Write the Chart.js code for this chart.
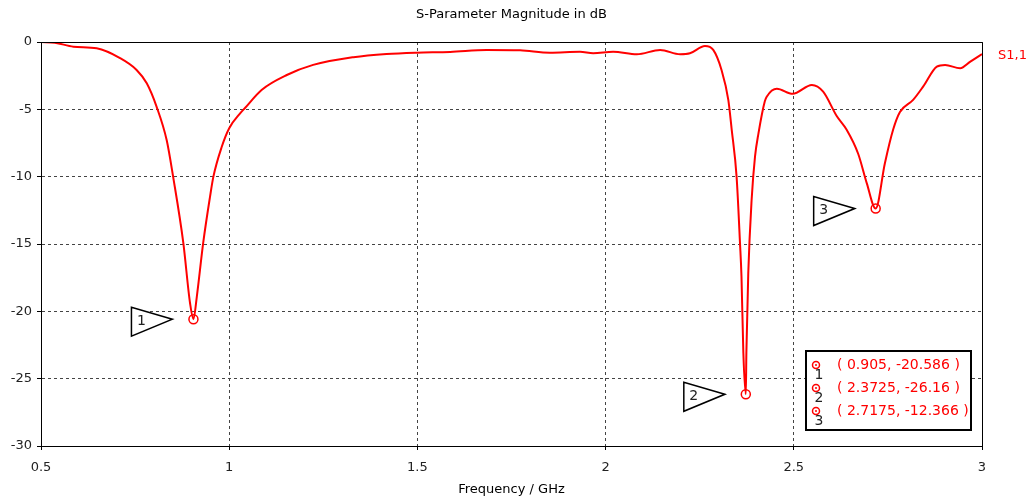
<!DOCTYPE html>
<html>
<head>
<meta charset="utf-8">
<script src="https://cdn.jsdelivr.net/npm/chart.js@4"></script>
<style>
  body { margin: 0; background: #fff; }
  #wrap { width: 1029px; height: 497px; position: relative; }
</style>
</head>
<body>
<div id="wrap"><canvas id="chart"></canvas></div>
<script>
// S1,1 magnitude trace
const freqGHz = [
  0.5, 0.537, 0.586, 0.648, 0.71, 0.754, 0.781, 0.807, 0.834, 0.851, 0.878, 0.896, 0.905,
  0.914, 0.931, 0.949, 0.958, 0.98, 1.0, 1.029, 1.042, 1.086, 1.153, 1.223, 1.33, 1.418,
  1.498, 1.587, 1.684, 1.773, 1.852, 1.932, 1.967, 2.02, 2.083, 2.145, 2.198, 2.224, 2.264,
  2.286, 2.308, 2.326, 2.335, 2.348, 2.357, 2.361, 2.366, 2.3725, 2.374, 2.379, 2.388, 2.397,
  2.406, 2.423, 2.428, 2.455, 2.497, 2.548, 2.578, 2.614, 2.64, 2.671, 2.694, 2.7175, 2.742,
  2.764, 2.782, 2.817, 2.844, 2.88, 2.902, 2.942, 2.969, 3.0
];
const s11dB = [
  0, -0.05, -0.35, -0.47, -1.2, -2.08, -3.07, -4.8, -7.3, -10, -14.9, -19.4, -20.586,
  -18.9, -14.9, -11.5, -10, -7.8, -6.4, -5.3, -4.9, -3.56, -2.45, -1.7, -1.13, -0.89,
  -0.79, -0.74, -0.59, -0.62, -0.79, -0.72, -0.84, -0.72, -0.91, -0.59, -0.91, -0.84, -0.3,
  -0.59, -2.08, -4.3, -6.5, -10, -14.9, -17.4, -23.1, -26.16, -23.1, -17.2, -11.7, -8.5,
  -6.8, -4.4, -4.06, -3.47, -3.85, -3.19, -3.69, -5.5, -6.5, -8.3, -10.5, -12.366, -9.0,
  -6.5, -5.2, -4.3, -3.3, -1.83, -1.7, -1.95, -1.46, -0.89
];

// markers
const markerNames = ['1', '2', '3'];
const markerFreq = [0.905, 2.3725, 2.7175];
const markerDb = [-20.586, -26.16, -12.366];
const markerText = ['( 0.905, -20.586 )', '( 2.3725, -26.16 )', '( 2.7175, -12.366 )'];

// axes
const xMin = 0.5, xMax = 3, xStep = 0.5;
const yMin = -30, yMax = 0, yStep = 5;

const chartTitle = 'S-Parameter Magnitude in dB';
const xTitle = 'Frequency / GHz';
const traceName = 'S1,1';

const RED = '#ff0000';
const FONT = "'DejaVu Sans', sans-serif";

const tracePoints = freqGHz.map((f, i) => ({ x: f, y: s11dB[i] }));
const markerPoints = markerFreq.map((f, i) => ({ x: f, y: markerDb[i] }));

// Extra drawing: titles, frame, marker flags and the marker box
const decor = {
  id: 'decor',
  afterDatasetsDraw(chart) {
    const { ctx, chartArea: a, scales: { x, y } } = chart;
    ctx.save();

    // frame top + right
    ctx.strokeStyle = '#000';
    ctx.lineWidth = 1;
    ctx.beginPath();
    ctx.moveTo(a.left, a.top + 0.5);
    ctx.lineTo(a.right + 0.5, a.top + 0.5);
    ctx.lineTo(a.right + 0.5, a.bottom);
    ctx.stroke();

    // titles
    ctx.fillStyle = '#000';
    ctx.font = '13px ' + FONT;
    ctx.textAlign = 'center';
    ctx.textBaseline = 'middle';
    ctx.fillText(chartTitle, (a.left + a.right) / 2, 15);
    ctx.fillText(xTitle, (a.left + a.right) / 2, 490);

    ctx.fillStyle = RED;
    ctx.font = '13px ' + FONT;
    ctx.textAlign = 'left';
    ctx.fillText(traceName, a.right + 16, 56);

    // marker flags (triangles)
    markerFreq.forEach((f, i) => {
      const px = x.getPixelForValue(f);
      const py = y.getPixelForValue(markerDb[i]);
      ctx.fillStyle = '#fff';
      ctx.strokeStyle = '#000';
      ctx.lineWidth = 1.5;
      ctx.beginPath();
      ctx.moveTo(px - 21, py);
      ctx.lineTo(px - 62, py - 12);
      ctx.lineTo(px - 62, py + 17);
      ctx.closePath();
      ctx.fill();
      ctx.stroke();
      ctx.fillStyle = '#222';
      ctx.font = '14px ' + FONT;
      ctx.textAlign = 'center';
      ctx.fillText(markerNames[i], px - 52, py + 2);
    });

    // marker value box
    const bx = 806, by = 351, bw = 165, bh = 79;
    ctx.fillStyle = '#fff';
    ctx.fillRect(bx, by, bw, bh);
    ctx.strokeStyle = '#000';
    ctx.lineWidth = 2;
    ctx.strokeRect(bx, by, bw, bh);
    markerText.forEach((t, i) => {
      const cy = 365 + i * 23;
      ctx.strokeStyle = RED;
      ctx.lineWidth = 1.5;
      ctx.beginPath();
      ctx.arc(816, cy, 3.5, 0, Math.PI * 2);
      ctx.stroke();
      ctx.fillStyle = RED;
      ctx.beginPath();
      ctx.arc(816, cy, 1, 0, Math.PI * 2);
      ctx.fill();
      ctx.font = '14px ' + FONT;
      ctx.textAlign = 'left';
      ctx.fillText(t, 837, cy);
      ctx.fillStyle = '#222';
      ctx.font = '14px ' + FONT;
      ctx.textAlign = 'center';
      ctx.fillText(markerNames[i], 819, cy + 10);
    });

    ctx.restore();
  }
};

new Chart(document.getElementById('chart'), {
  type: 'scatter',
  data: {
    datasets: [
      {
        data: tracePoints,
        showLine: true,
        borderColor: RED,
        borderWidth: 2,
        pointRadius: 0,
        cubicInterpolationMode: 'monotone'
      },
      {
        data: markerPoints,
        showLine: false,
        pointStyle: 'circle',
        pointRadius: 4.5,
        borderWidth: 1.5,
        borderColor: RED,
        backgroundColor: '#fff'
      },
      {
        data: markerPoints,
        showLine: false,
        pointRadius: 1.2,
        borderWidth: 0,
        backgroundColor: RED
      }
    ]
  },
  options: {
    responsive: true,
    maintainAspectRatio: false,
    animation: false,
    layout: { padding: { left: 0, top: 42, right: 47, bottom: 0 } },
    plugins: {
      legend: { display: false },
      tooltip: { enabled: false }
    },
    scales: {
      x: {
        type: 'linear',
        min: xMin,
        max: xMax,
        afterFit: s => { s.height = 51; },
        ticks: {
          stepSize: xStep,
          padding: 10,
          color: '#222',
          font: { size: 13, family: FONT },
          callback: v => String(parseFloat(v.toFixed(2)))
        },
        grid: { color: '#444', tickColor: '#000', tickLength: 4, tickBorderDash: [] },
        border: { color: '#000', width: 1, dash: [3, 3] }
      },
      y: {
        min: yMin,
        max: yMax,
        afterFit: s => { s.width = 41; },
        ticks: {
          stepSize: yStep,
          padding: 5,
          color: '#222',
          font: { size: 13, family: FONT },
          callback: v => String(v)
        },
        grid: { color: '#444', tickColor: '#000', tickLength: 4, tickBorderDash: [] },
        border: { color: '#000', width: 1, dash: [3, 3] }
      }
    }
  },
  plugins: [decor]
});
</script>
</body>
</html>
